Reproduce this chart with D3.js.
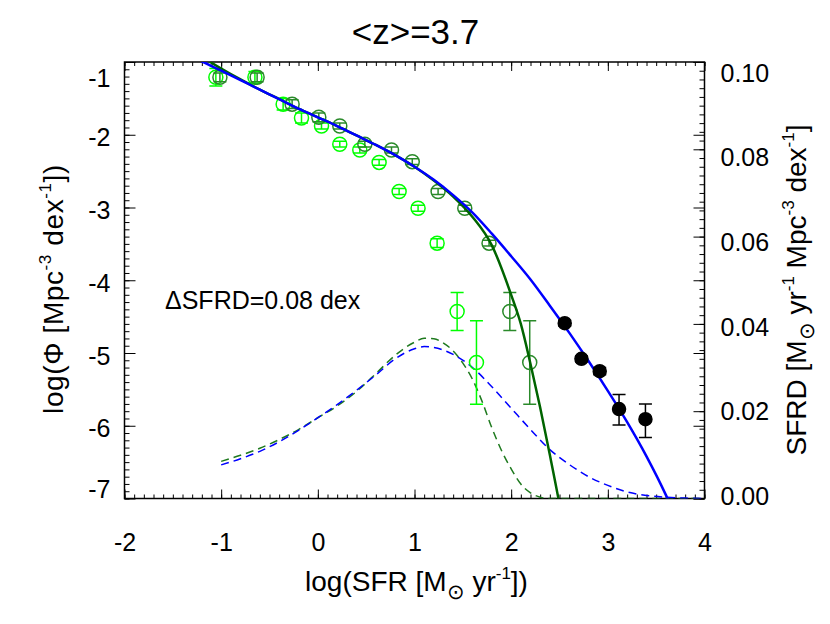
<!DOCTYPE html>
<html><head><meta charset="utf-8">
<script src="https://cdn.jsdelivr.net/npm/d3@7"></script>
<style>
body{margin:0;background:#fff}
svg{display:block}
text{font-family:"Liberation Sans",Arial,Helvetica,sans-serif;fill:#000}
</style>
</head><body>
<svg id="c" width="830" height="624"></svg>
<script>
// ---------------- data ----------------
const xTicks = [-2, -1, 0, 1, 2, 3, 4];
const yTicks = [-7, -6, -5, -4, -3, -2, -1];
const sfrdTicks = [0.00, 0.02, 0.04, 0.06, 0.08, 0.10];

// light green open circles
const lightX   = [-1.055, -0.651, -0.359, -0.169, 0.038, 0.227, 0.434, 0.634, 0.841, 1.037, 1.234, 1.441, 1.641];
const lightY   = [-1.21, -1.21, -1.58, -1.77, -1.88, -2.13, -2.21, -2.38, -2.78, -3.01, -3.49, -4.43, -5.13];
const lightErr = [0.12, 0.08, 0.08, 0.07, 0.04, 0.04, 0.04, 0.04, 0.04, 0.04, 0.06, 0.26, 0.575];

// dark green open circles
const darkX   = [-1.013, -0.628, -0.266, 0.010, 0.227, 0.486, 0.762, 0.977, 1.244, 1.520, 1.771, 1.986, 2.192];
const darkY   = [-1.21, -1.21, -1.58, -1.76, -1.88, -2.13, -2.21, -2.37, -2.78, -3.01, -3.49, -4.43, -5.13];
const darkErr = [0.06, 0.06, 0.06, 0.06, 0.04, 0.04, 0.04, 0.04, 0.04, 0.04, 0.04, 0.26, 0.575];

// black filled circles
const blackX     = [2.554, 2.727, 2.916, 3.116, 3.389];
const blackY     = [-4.59, -5.08, -5.25, -5.77, -5.91];
const blackErrHi = [0.04, 0.04, 0.05, 0.20, 0.21];
const blackErrLo = [0.04, 0.04, 0.05, 0.22, 0.25];

// blue solid fit (log Phi)
const blueFitX = [-1.4, -1.2, -1.0, -0.8, -0.6, -0.4, -0.2, 0.0, 0.2, 0.4, 0.6, 0.8, 1.0, 1.2, 1.4, 1.6, 1.8, 2.0, 2.2, 2.4, 2.6, 2.8, 3.0, 3.2, 3.4, 3.6, 3.7];
const blueFitY = [-0.86, -0.99, -1.12, -1.25, -1.38, -1.51, -1.64, -1.76, -1.88, -2.01, -2.14, -2.28, -2.44, -2.62, -2.83, -3.07, -3.36, -3.67, -3.99, -4.35, -4.72, -5.11, -5.52, -5.95, -6.42, -6.95, -7.25];

// green solid fit (log Phi)
const greenFitX = [-1.4, -1.2, -1.0, -0.8, -0.6, -0.4, -0.2, 0.0, 0.2, 0.4, 0.6, 0.8, 1.0, 1.2, 1.4, 1.6, 1.8, 2.0, 2.1, 2.2, 2.3, 2.4, 2.5, 2.55];
const greenFitY = [-0.77, -0.93, -1.09, -1.24, -1.38, -1.51, -1.64, -1.76, -1.88, -2.01, -2.14, -2.28, -2.44, -2.63, -2.85, -3.13, -3.52, -4.20, -4.60, -5.15, -5.75, -6.40, -7.08, -7.45];

// blue dashed SFRD (right axis)
const blueSfrdX = [-1.0, -0.8, -0.6, -0.4, -0.2, 0.0, 0.2, 0.4, 0.6, 0.8, 1.0, 1.1, 1.2, 1.4, 1.6, 1.8, 2.0, 2.2, 2.4, 2.6, 2.8, 3.0, 3.2, 3.4, 3.6, 3.8, 4.0];
const blueSfrdY = [0.0077, 0.0091, 0.0108, 0.0130, 0.0156, 0.0185, 0.0215, 0.0248, 0.0283, 0.0320, 0.0343, 0.0348, 0.0346, 0.0330, 0.0300, 0.0256, 0.0207, 0.0158, 0.0112, 0.0078, 0.0050, 0.0030, 0.0015, 0.0007, 0.0003, 0.0001, 0.0000];

// green dashed SFRD (right axis)
const greenSfrdX = [-1.0, -0.8, -0.6, -0.4, -0.2, 0.0, 0.2, 0.4, 0.6, 0.8, 1.0, 1.1, 1.2, 1.3, 1.4, 1.5, 1.6, 1.7, 1.8, 1.9, 2.0, 2.1, 2.2, 2.3, 2.4, 2.8, 3.2, 3.6, 4.0];
const greenSfrdY = [0.0085, 0.0099, 0.0115, 0.0135, 0.0158, 0.0185, 0.0212, 0.0245, 0.0286, 0.0328, 0.0358, 0.0367, 0.0366, 0.0356, 0.0338, 0.0310, 0.0273, 0.0222, 0.0162, 0.0110, 0.0068, 0.0033, 0.0013, 0.0003, 0.0000, 0.0000, 0.0000, 0.0000, 0.0000];

const titleText = "<z>=3.7";
const noteText = "\u0394SFRD=0.08 dex";

// ---------------- layout ----------------
const L = 124.5, R = 704.5, T = 62, B = 498.5;
const svg = d3.select("#c");
const x = d3.scaleLinear().domain([-2, 4]).range([L, R]);
const y = d3.scaleLinear().domain([-7, -1]).range([B, T]);
const ys = d3.scaleLinear().domain([0, 0.1]).range([B, T]);

const LIGHT = "#00ff00", DARK = "#2a8a2a", DARKLINE = "#006400", BLUE = "#0000ff";

svg.append("defs").append("clipPath").attr("id", "clip")
  .append("rect").attr("x", L).attr("y", T).attr("width", R - L).attr("height", B - T);

// ---------------- axes ----------------
const tickFont = 25;
const intFmt = d => String(d);             // plain hyphen-minus like the original
const sfrdFmt = d => d.toFixed(2);
function styleAxis(g) {
  g.select(".domain").remove();
  g.selectAll("line").attr("stroke", "#000").attr("stroke-width", 1);
  g.selectAll("text").attr("font-size", tickFont).attr("font-family", "Liberation Sans, Arial, sans-serif");
}
const xMinor = d3.range(-2, 4.0001, 0.1).map(v => +v.toFixed(2));
const yMinor = d3.range(-7, -0.9999, 0.1).map(v => +v.toFixed(2));
const sMinor = d3.range(0, 0.10001, 0.002).map(v => +v.toFixed(4));

// bottom
svg.append("g").attr("transform", `translate(0,${B})`)
  .call(d3.axisBottom(x).tickValues(xMinor).tickSize(-4).tickFormat(""))
  .call(styleAxis);
svg.append("g").attr("transform", `translate(0,${B})`)
  .call(d3.axisBottom(x).tickValues(xTicks).tickSize(-9).tickPadding(35).tickFormat(intFmt))
  .call(styleAxis);
// top
svg.append("g").attr("transform", `translate(0,${T})`)
  .call(d3.axisTop(x).tickValues(xMinor).tickSize(-4).tickFormat(""))
  .call(styleAxis);
svg.append("g").attr("transform", `translate(0,${T})`)
  .call(d3.axisTop(x).tickValues(xTicks).tickSize(-9).tickFormat(""))
  .call(styleAxis);
// left
svg.append("g").attr("transform", `translate(${L},0)`)
  .call(d3.axisLeft(y).tickValues(yMinor).tickSize(-5).tickFormat(""))
  .call(styleAxis);
svg.append("g").attr("transform", `translate(${L},0)`)
  .call(d3.axisLeft(y).tickValues(yTicks).tickSize(-11).tickPadding(14).tickFormat(intFmt))
  .call(styleAxis)
  .call(g => g.selectAll("text").attr("dy", d => (d === -1 ? 24 : d === -7 ? -1 : 11) + "px"));
// right: mirrored left ticks + SFRD axis
svg.append("g").attr("transform", `translate(${R},0)`)
  .call(d3.axisRight(y).tickValues(yTicks).tickSize(-11).tickFormat(""))
  .call(styleAxis);
svg.append("g").attr("transform", `translate(${R},0)`)
  .call(d3.axisRight(ys).tickValues(sMinor).tickSize(-5).tickFormat(""))
  .call(styleAxis);
svg.append("g").attr("transform", `translate(${R},0)`)
  .call(d3.axisRight(ys).tickValues(sfrdTicks).tickSize(-11).tickPadding(16).tickFormat(sfrdFmt))
  .call(styleAxis)
  .call(g => g.selectAll("text").attr("dy", d => (6 + 13 * d / 0.1) + "px"));

// frame
svg.append("rect").attr("x", L).attr("y", T).attr("width", R - L).attr("height", B - T)
  .attr("fill", "none").attr("stroke", "#000").attr("stroke-width", 1.5);

// ---------------- data layer ----------------
const plot = svg.append("g").attr("clip-path", "url(#clip)");

const lineXY = (xs, yv, sy) => d3.line().curve(d3.curveMonotoneX)
  .x((d, i) => x(xs[i])).y((d, i) => sy(yv[i]))(xs);

// dashed SFRD curves
plot.append("path").attr("d", lineXY(greenSfrdX, greenSfrdY, ys))
  .attr("fill", "none").attr("stroke", "#1f7a1f").attr("stroke-width", 1.5).attr("stroke-dasharray", "8,5");
plot.append("path").attr("d", lineXY(blueSfrdX, blueSfrdY, ys))
  .attr("fill", "none").attr("stroke", BLUE).attr("stroke-width", 1.5).attr("stroke-dasharray", "8,5");

// point drawing helpers
const R_PT = 7, CAP = 6.5;
function errbars(g, xs, yv, lo, hi, color, w) {
  xs.forEach((xv, i) => {
    const cx = x(xv), y1 = y(yv[i] + hi[i]), y2 = y(yv[i] - lo[i]);
    g.append("line").attr("x1", cx).attr("x2", cx).attr("y1", y1).attr("y2", y2).attr("stroke", color).attr("stroke-width", w);
    g.append("line").attr("x1", cx - CAP).attr("x2", cx + CAP).attr("y1", y1).attr("y2", y1).attr("stroke", color).attr("stroke-width", w);
    g.append("line").attr("x1", cx - CAP).attr("x2", cx + CAP).attr("y1", y2).attr("y2", y2).attr("stroke", color).attr("stroke-width", w);
  });
}
function circles(g, xs, yv, color, filled) {
  xs.forEach((xv, i) => {
    g.append("circle").attr("cx", x(xv)).attr("cy", y(yv[i])).attr("r", filled ? 6.5 : R_PT)
      .attr("fill", filled ? color : "none").attr("stroke", color).attr("stroke-width", 1.5);
  });
}
const gLight = plot.append("g");
errbars(gLight, lightX, lightY, lightErr, lightErr, LIGHT, 1.5);
circles(gLight, lightX, lightY, LIGHT, false);
const gDark = plot.append("g");
errbars(gDark, darkX, darkY, darkErr, darkErr, DARK, 1.5);
circles(gDark, darkX, darkY, DARK, false);

// solid fits
plot.append("path").attr("d", lineXY(greenFitX, greenFitY, y))
  .attr("fill", "none").attr("stroke", DARKLINE).attr("stroke-width", 2.5);
plot.append("path").attr("d", lineXY(blueFitX, blueFitY, y))
  .attr("fill", "none").attr("stroke", BLUE).attr("stroke-width", 2.5);

const gBlack = plot.append("g");
errbars(gBlack, blackX, blackY, blackErrLo, blackErrHi, "#000", 1.5);
circles(gBlack, blackX, blackY, "#000", true);

// ---------------- texts ----------------
svg.append("text").attr("x", (L + R) / 2 + 1).attr("y", 44).attr("text-anchor", "middle")
  .attr("font-size", 35).text(titleText);

svg.append("text").attr("x", 165).attr("y", 309).attr("font-size", 25).text(noteText);

const TF = 28, SUP = 17, SUN = 21;
// x title
const xt = svg.append("text").attr("x", (L + R) / 2 + 2).attr("y", 591).attr("text-anchor", "middle").attr("font-size", TF);
xt.append("tspan").text("log(SFR [M");
xt.append("tspan").attr("dy", 8).attr("font-size", SUN).text("\u2299");
xt.append("tspan").attr("dy", -8).text(" yr");
xt.append("tspan").attr("dy", -12).attr("font-size", SUP).text("-1");
xt.append("tspan").attr("dy", 12).text("])");

// left title
const yt = svg.append("text").attr("transform", `translate(63,289) rotate(-90)`)
  .attr("text-anchor", "middle").attr("font-size", TF).attr("letter-spacing", 0.6);
yt.append("tspan").text("log(\u03A6 [Mpc");
yt.append("tspan").attr("dy", -12).attr("font-size", SUP).text("-3");
yt.append("tspan").attr("dy", 12).text(" dex");
yt.append("tspan").attr("dy", -12).attr("font-size", SUP).text("-1");
yt.append("tspan").attr("dy", 12).text("])");

// right title
const rt = svg.append("text").attr("transform", `translate(806,290) rotate(-90)`)
  .attr("text-anchor", "middle").attr("font-size", TF);
rt.append("tspan").text("SFRD [M");
rt.append("tspan").attr("dy", 8).attr("font-size", SUN).text("\u2299");
rt.append("tspan").attr("dy", -8).text(" yr");
rt.append("tspan").attr("dy", -12).attr("font-size", SUP).text("-1");
rt.append("tspan").attr("dy", 12).text(" Mpc");
rt.append("tspan").attr("dy", -12).attr("font-size", SUP).text("-3");
rt.append("tspan").attr("dy", 12).text(" dex");
rt.append("tspan").attr("dy", -12).attr("font-size", SUP).text("-1");
rt.append("tspan").attr("dy", 12).text("]");
</script>
</body></html>
